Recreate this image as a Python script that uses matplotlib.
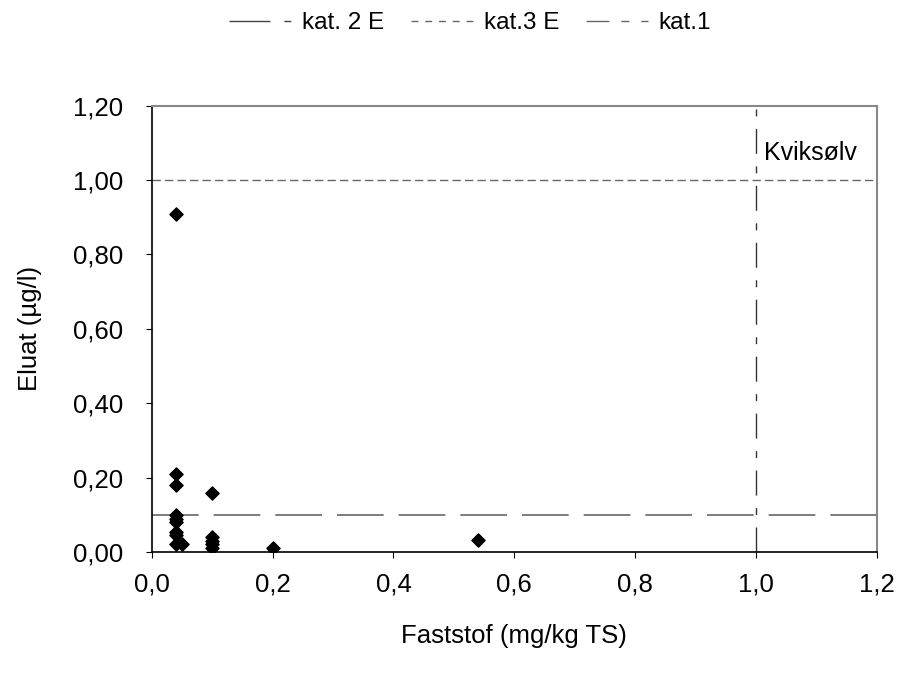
import matplotlib.pyplot as plt
from matplotlib.lines import Line2D

# Kviksølv: faststof vs eluat
faststof = [0.04, 0.04, 0.04, 0.04, 0.04, 0.04, 0.04, 0.04, 0.04, 0.05,
            0.10, 0.10, 0.10, 0.10, 0.10, 0.20, 0.54]
eluat = [0.91, 0.21, 0.18, 0.10, 0.09, 0.08, 0.055, 0.045, 0.022, 0.022,
         0.16, 0.04, 0.03, 0.022, 0.01, 0.01, 0.032]

kat1 = 0.10       # eluat criterion
kat3 = 1.00       # eluat criterion
kat2_fast = 1.00  # faststof criterion

plt.rcParams['font.family'] = ['Liberation Sans', 'DejaVu Sans']

fig = plt.figure(figsize=(9.04, 6.78), dpi=100)
ax = fig.add_axes([0.1678, 0.1858, 0.8023, 0.6583])

ax.axvline(kat2_fast, color='#333333', lw=1.0, dashes=(18, 9, 5, 9))
ax.axhline(kat3, color='#666666', lw=1.0, dashes=(6, 3))
ax.axhline(kat1, color='#666666', lw=1.2, dashes=(28, 9))

ax.scatter(faststof, eluat, marker='D', s=45, color='black', zorder=3)

ax.set_xlim(0, 1.2)
ax.set_ylim(0, 1.2)
xt = [0.0, 0.2, 0.4, 0.6, 0.8, 1.0, 1.2]
yt = [0.0, 0.2, 0.4, 0.6, 0.8, 1.0, 1.2]
ax.set_xticks(xt)
ax.set_xticklabels([f'{v:.1f}'.replace('.', ',') for v in xt])
ax.set_yticks(yt)
ax.set_yticklabels([f'{v:.2f}'.replace('.', ',') for v in yt])
ax.tick_params(labelsize=18.5, direction='out', length=4.5)
ax.tick_params(axis='x', pad=10)
ax.tick_params(axis='y', pad=16)

for s in ['top', 'right']:
    ax.spines[s].set_color('#888888')
    ax.spines[s].set_linewidth(1.5)
for s in ['left', 'bottom']:
    ax.spines[s].set_color('black')
    ax.spines[s].set_linewidth(1.2)

ax.set_xlabel('Faststof (mg/kg TS)', fontsize=18.5, labelpad=20)
ax.set_ylabel('Eluat (µg/l)', fontsize=18.5, labelpad=22)

ax.text(1.013, 1.054, 'Kviksølv', fontsize=18, ha='left', va='baseline')

handles = [
    Line2D([], [], color='#444444', lw=1.0, dashes=(29.5, 10, 5, 10)),
    Line2D([], [], color='#666666', lw=1.0, dashes=(5, 4.9)),
    Line2D([], [], color='#666666', lw=1.0, dashes=(16.5, 8.6, 5.8, 8.6)),
]
fig.legend(handles, ['kat. 2 E', 'kat.3 E', 'kat.1'], loc='center',
           bbox_to_anchor=(0.52, 0.966), ncol=3, frameon=False,
           fontsize=17.5, handlelength=2.55, columnspacing=1.1, handletextpad=0.45)

plt.savefig('out.png', dpi=100)
